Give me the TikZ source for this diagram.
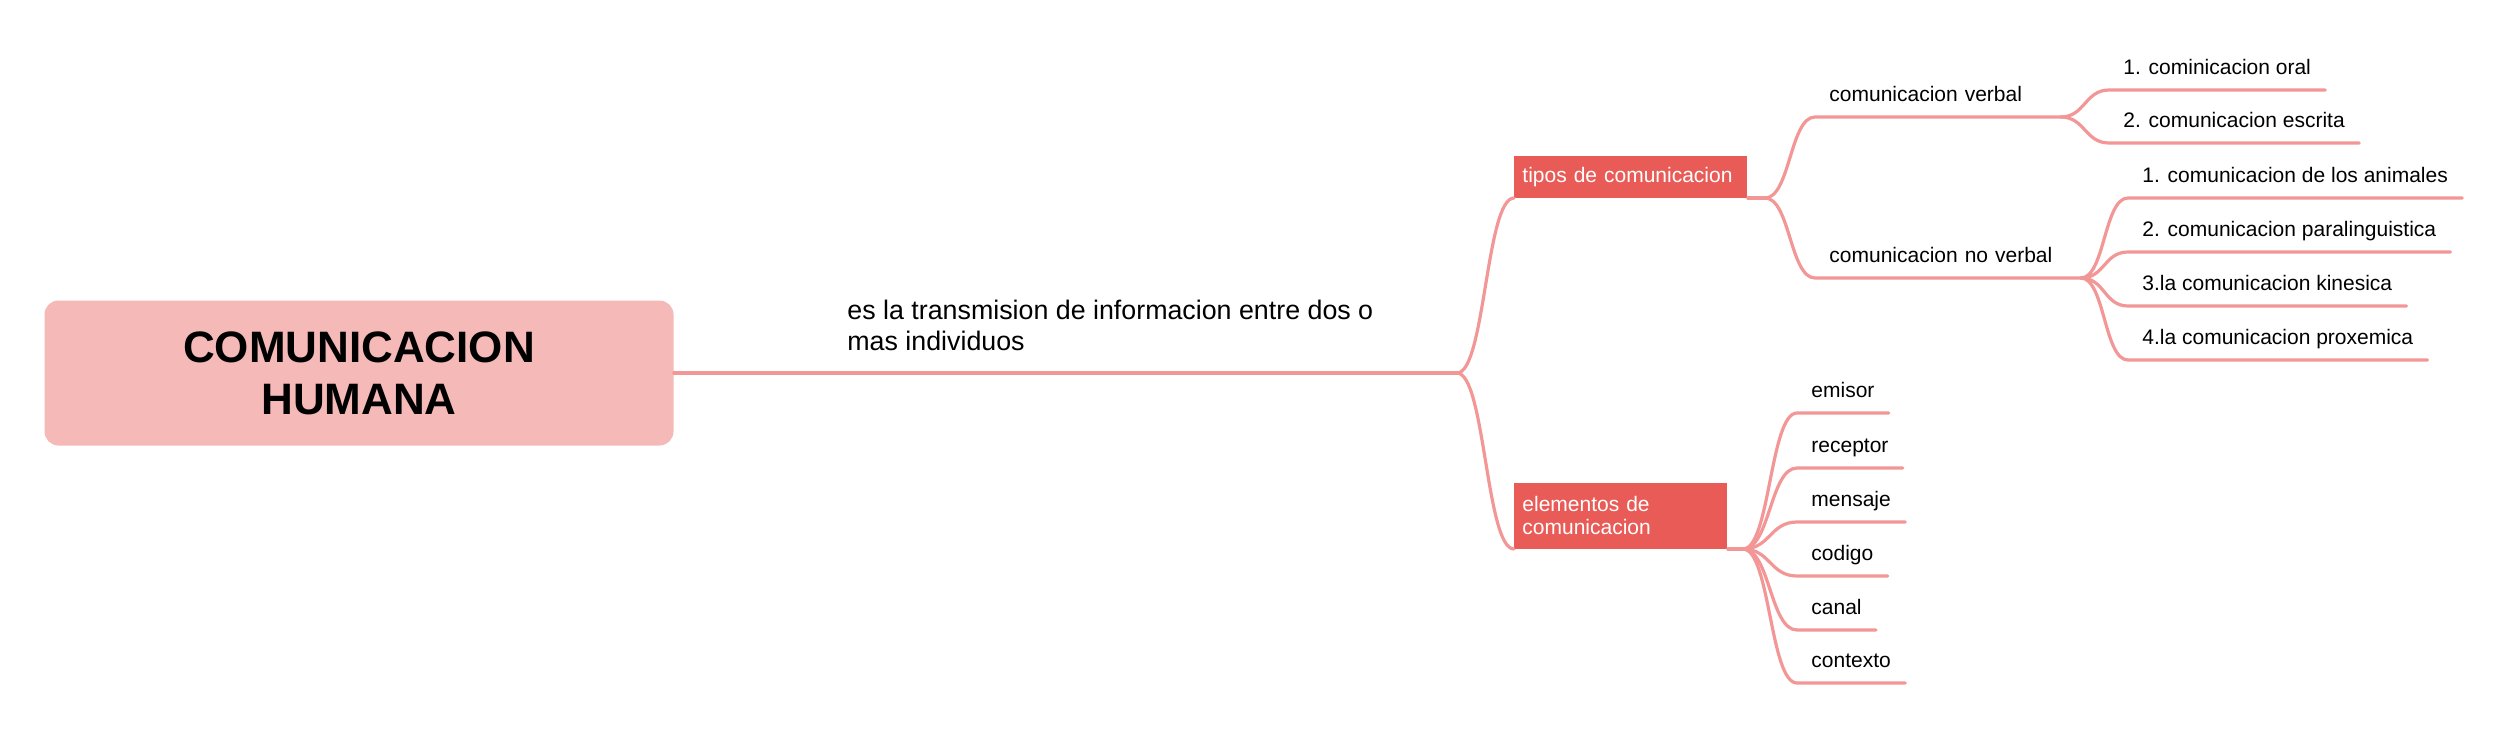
\documentclass[tikz,border=0pt]{standalone}
\usepackage{fontspec}
\setmainfont{Liberation Sans}
\usepackage{tikz}
\definecolor{rootpink}{HTML}{F5B9B8}
\definecolor{boxred}{HTML}{E85B57}
\definecolor{linkpink}{HTML}{F29796}
\begin{document}
\begin{tikzpicture}[x=0.5pt,y=-0.5pt,
  link/.style={draw=linkpink,line width=1.6pt,line cap=round},
  leaf/.style={anchor=south west,inner xsep=7pt,inner ysep=7.5pt,text depth=0pt,
    font=\fontsize{10.5}{12.6}\selectfont},
  topic/.style={anchor=south west,fill=boxred,text=white,align=left,inner xsep=4pt,
    font=\fontsize{10.5}{11.5}\selectfont}]
\useasboundingbox (0,0) rectangle (2512,744);
\node[fill=rootpink,rounded corners=7pt,minimum width=314.5pt,minimum height=72.5pt,
  align=center,font=\fontsize{22}{26}\selectfont\bfseries] (root) at (359,373)
  {COMUNICACION\\HUMANA};
\node[anchor=south west,inner xsep=0pt,inner ysep=11pt,text depth=0pt,align=left,
  font=\fontsize{13.4}{15.5}\selectfont] (def) at (847,373)
  {es la transmision de informacion entre dos o\\mas individuos};
\coordinate (trunk) at (1457,373);
\coordinate (tj) at (1765,198);
\coordinate (ej) at (1743,549);
\node[topic,text width=108.5pt,minimum height=21pt] (tipos) at (1514,198) {tipos de comunicacion};
\node[topic,text width=98.5pt,minimum height=33pt] (elem) at (1514,549) {elementos de\\comunicacion};
\node[leaf,text width=108.5pt] (verbal) at (1815,117) {comunicacion verbal};
\node[leaf,text width=118.5pt] (noverbal) at (1815,278) {comunicacion no verbal};
\node[leaf] (oral) at (2109,90) {1. cominicacion oral};
\node[leaf] (escrita) at (2109,143) {2. comunicacion escrita};
\node[leaf] (animales) at (2128,198) {1. comunicacion de los animales};
\node[leaf] (paraling) at (2128,252) {2. comunicacion paralinguistica};
\node[leaf] (kinesica) at (2128,306) {3.la comunicacion kinesica};
\node[leaf] (proxemica) at (2128,360) {4.la comunicacion proxemica};
\node[leaf] (emisor) at (1797,413) {emisor};
\node[leaf] (receptor) at (1797,468) {receptor};
\node[leaf] (mensaje) at (1797,522) {mensaje};
\node[leaf] (codigo) at (1797,576) {codigo};
\node[leaf] (canal) at (1797,630) {canal};
\node[leaf] (contexto) at (1797,683) {contexto};
\draw[link] (root.east) -- (trunk);
\draw[link] (trunk) .. controls +(28,0) and +(-28,0) .. (tipos.south west);
\draw[link] (trunk) .. controls +(28,0) and +(-28,0) .. (elem.south west);
\draw[link] (tipos.south east) -- (tj);
\draw[link] (tj) .. controls +(25,0) and +(-25,0) .. (verbal.south west) -- (verbal.south east);
\draw[link] (tj) .. controls +(25,0) and +(-25,0) .. (noverbal.south west) -- (noverbal.south east);
\draw[link] (verbal.south east) .. controls +(24,0) and +(-24,0) .. (oral.south west) -- (oral.south east);
\draw[link] (verbal.south east) .. controls +(24,0) and +(-24,0) .. (escrita.south west) -- (escrita.south east);
\draw[link] (noverbal.south east) .. controls +(24,0) and +(-24,0) .. (animales.south west) -- (animales.south east);
\draw[link] (noverbal.south east) .. controls +(24,0) and +(-24,0) .. (paraling.south west) -- (paraling.south east);
\draw[link] (noverbal.south east) .. controls +(24,0) and +(-24,0) .. (kinesica.south west) -- (kinesica.south east);
\draw[link] (noverbal.south east) .. controls +(24,0) and +(-24,0) .. (proxemica.south west) -- (proxemica.south east);
\draw[link] (elem.south east) -- (ej);
\draw[link] (ej) .. controls +(27,0) and +(-27,0) .. (emisor.south west) -- (emisor.south east);
\draw[link] (ej) .. controls +(27,0) and +(-27,0) .. (receptor.south west) -- (receptor.south east);
\draw[link] (ej) .. controls +(27,0) and +(-27,0) .. (mensaje.south west) -- (mensaje.south east);
\draw[link] (ej) .. controls +(27,0) and +(-27,0) .. (codigo.south west) -- (codigo.south east);
\draw[link] (ej) .. controls +(27,0) and +(-27,0) .. (canal.south west) -- (canal.south east);
\draw[link] (ej) .. controls +(27,0) and +(-27,0) .. (contexto.south west) -- (contexto.south east);
\end{tikzpicture}
\end{document}
